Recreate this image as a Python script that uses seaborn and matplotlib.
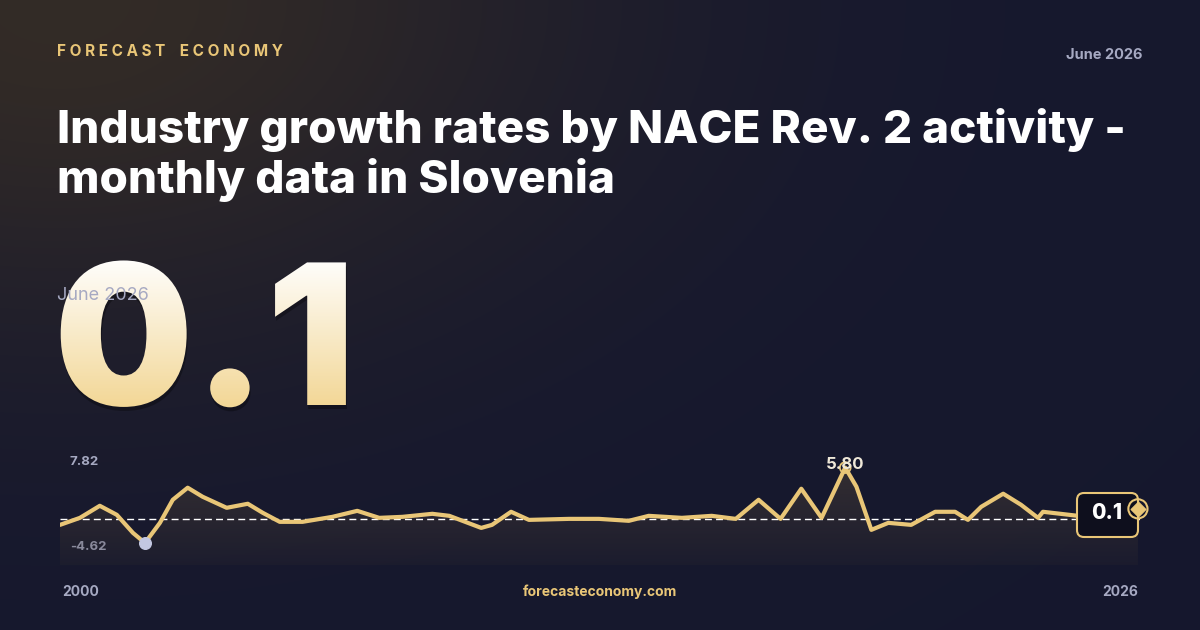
import numpy as np
import pandas as pd
import matplotlib
matplotlib.use("Agg")
import matplotlib.pyplot as plt
import seaborn as sns
from matplotlib.textpath import TextPath
from matplotlib.font_manager import FontProperties
from matplotlib.patches import PathPatch, FancyBboxPatch
from matplotlib.transforms import Affine2D

# ---- data ----
years = [2000.0, 2000.48, 2000.96, 2001.37, 2001.76, 2002.05, 2002.41, 2002.72, 2003.08, 2003.44,
         2004.02, 2004.53, 2004.89, 2005.30, 2005.85, 2006.57, 2007.17, 2007.70, 2008.26, 2008.98,
         2009.39, 2010.16, 2010.42, 2010.88, 2011.31, 2012.28, 2013.0, 2013.72, 2014.2, 2015.0,
         2015.72, 2016.30, 2016.85, 2017.38, 2017.88, 2018.37, 2018.94, 2019.21, 2019.57, 2019.98,
         2020.53, 2021.11, 2021.59, 2021.90, 2022.22, 2022.75, 2023.18, 2023.59, 2023.71, 2024.6, 2026.0]
values = [-2.12, -1.15, 0.52, -0.73, -3.23, -4.62, -1.84, 1.35, 3.02, 1.77,
          0.24, 0.80, -0.45, -1.70, -1.70, -1.01, -0.18, -1.15, -1.01, -0.59,
          -0.87, -2.54, -2.12, -0.31, -1.43, -1.29, -1.29, -1.56, -0.87, -1.15,
          -0.87, -1.29, 1.35, -1.29, 2.88, -1.15, 5.80, 3.16, -2.81, -1.84,
          -2.12, -0.31, -0.31, -1.43, 0.38, 2.19, 0.66, -1.15, -0.31, -0.9, 0.1]
ref_line = -1.29
y_max_label, y_min_label = 7.82, -4.62
latest_value = "0.1"
period = "June 2026"
title = "Industry growth rates by NACE Rev. 2 activity -\nmonthly data in Slovenia"
brand = "FORECAST ECONOMY"
site = "forecasteconomy.com"
start_label, end_label = "2000", "2026"

GOLD = "#e9c677"
GRAY = "#a6a9c2"

sns.set_theme(style="white")
plt.rcParams['font.family'] = ['Inter', 'DejaVu Sans']

fig = plt.figure(figsize=(12, 6.3), dpi=100)
bg = fig.add_axes([0, 0, 1, 1])
bg.set_xlim(0, 1200); bg.set_ylim(630, 0); bg.axis("off")

yy, xx = np.mgrid[0:630, 0:1200]
base = np.array([0.086, 0.094, 0.180])
glow = np.exp(-(((xx - 60) / 520.0) ** 2 + ((yy - 0) / 330.0) ** 2))
img = np.zeros((630, 1200, 3))
warm = np.array([0.20, 0.17, 0.15])
for c in range(3):
    img[..., c] = base[c] * (1 - glow) + warm[c] * glow
bg.imshow(img, extent=[0, 1200, 630, 0], aspect="auto", zorder=0)

bg.text(57, 52, " ".join(list(brand)).replace("   ", "    "),
        color=GOLD, fontsize=11, fontweight="bold", va="center", ha="left")
bg.text(1143, 55, period, color=GRAY, fontsize=10.5, fontweight="bold", va="center", ha="right")
bg.text(57, 155, title, color="white", fontsize=33, fontweight="heavy", va="center", ha="left",
        linespacing=1.15)

fp = FontProperties(family="Inter", weight="black")
tp = TextPath((0, 0), latest_value, size=196, prop=fp)
tr = Affine2D().scale(1, -1).translate(54, 405)
path = tr.transform_path(tp)
shadow = PathPatch(Affine2D().translate(1, 4).transform_path(path), facecolor="black",
                   edgecolor="none", alpha=0.3, zorder=2)
bg.add_patch(shadow)
patch = PathPatch(path, facecolor="none", edgecolor="none", zorder=3)
bg.add_patch(patch)
grad = np.linspace(0, 1, 200)[:, None]
top = np.array([1.0, 1.0, 1.0]); bot = np.array([0.95, 0.84, 0.58])
gimg = top[None, None, :] * (1 - grad[..., None]) + bot[None, None, :] * grad[..., None]
gimg = np.repeat(gimg, 2, axis=1)
im = bg.imshow(gimg, extent=[40, 380, 410, 255], aspect="auto", zorder=3)
im.set_clip_path(patch)
bg.set_xlim(0, 1200); bg.set_ylim(630, 0)
bg.text(57, 296, period, color=GRAY, fontsize=13, va="center", ha="left", zorder=4)

# chart
ax = fig.add_axes([60 / 1200, 1 - 565 / 630, 1080 / 1200, 112 / 630])
ax.set_facecolor("none")
ax.set_zorder(2)
df = pd.DataFrame({"year": years, "value": values})
ymin_axis = -7.67
fill = ax.fill_between(df["year"], df["value"], ymin_axis, color="none")
fimg = np.linspace(0, 1, 100)[:, None]
fcol = np.zeros((100, 2, 4))
fcol[..., 0] = 0.24; fcol[..., 1] = 0.21; fcol[..., 2] = 0.20
fcol[..., 3] = (0.85 * (1 - fimg) + 0.15 * fimg)
fim = ax.imshow(fcol, extent=[2000, 2026, ymin_axis, 7.82], aspect="auto", zorder=1)
fim.set_clip_path(fill.get_paths()[0], transform=ax.transData)
sns.lineplot(data=df, x="year", y="value", ax=ax, color=GOLD, linewidth=3, zorder=3)
ax.axhline(ref_line, color="white", lw=1, ls=(0, (5, 3)), zorder=2)
imin = int(np.argmin(values)); imax = int(np.argmax(values))
ax.scatter([years[imin]], [values[imin]], s=70, color="#c3c7e2", zorder=5)
ax.scatter([years[imax]], [values[imax]], s=60, facecolor="none", edgecolor=GOLD, lw=1.3, zorder=5)
ax.annotate(f"{values[imax]:.2f}", (years[imax], values[imax]), xytext=(0, -3),
            textcoords="offset points", ha="center", va="bottom", color="#efe8d8",
            fontsize=12, fontweight="bold", zorder=6)

box = FancyBboxPatch((1077, 493), 61, 44, boxstyle="round,pad=0,rounding_size=7",
                     facecolor="#0e0f1d", edgecolor=GOLD, lw=1.5, zorder=6,
                     transform=bg.transData, clip_on=False)
ax.add_patch(box)
ax.text(1107, 513, latest_value, color="white", fontsize=15, fontweight="heavy",
        ha="center", va="center", zorder=7, transform=bg.transData, clip_on=False)
ax.scatter([years[-1]], [values[-1]], s=190, facecolor="none", edgecolor=GOLD, lw=1.5,
           zorder=8, clip_on=False)
ax.scatter([years[-1]], [values[-1]], s=55, marker="D", color=GOLD, zorder=8, clip_on=False)
ax.set_xlim(2000, 2026.05); ax.set_ylim(ymin_axis, 7.82)
ax.axis("off")

bg.text(70, 462, f"{y_max_label:.2f}", color=GRAY, fontsize=9.5, fontweight="bold", va="center")
bg.text(70, 547, f"{y_min_label:.2f}", color=GRAY, fontsize=9.5, fontweight="bold", va="center")
bg.text(62, 592, start_label, color=GRAY, fontsize=10, fontweight="bold", va="center")
bg.text(1138, 592, end_label, color=GRAY, fontsize=10, fontweight="bold", va="center", ha="right")
bg.text(600, 592, site, color=GOLD, fontsize=10, fontweight="bold", va="center", ha="center")

fig.savefig("out.png", dpi=100)
